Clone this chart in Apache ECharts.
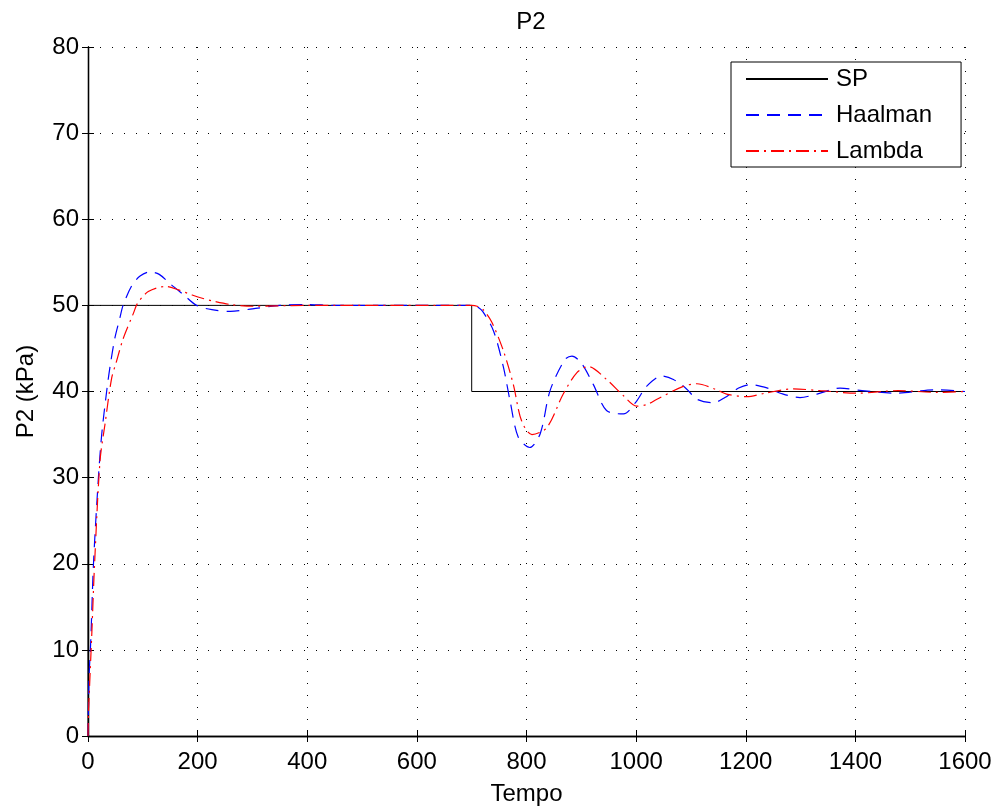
<!DOCTYPE html>
<html><head><meta charset="utf-8">
<script src="https://cdn.jsdelivr.net/npm/echarts@6/dist/echarts.min.js"></script>
<style>html,body{margin:0;padding:0;background:#fff}#c{width:1001px;height:811px}</style>
</head><body><div id="c"></div>
<script>
var xTicks = [0,200,400,600,800,1000,1200,1400,1600];
var yTicks = [0,10,20,30,40,50,60,70,80];
var spData = [[0,0],[0,50],[700,50],[700,40],[1600,40]];
var haalmanData = [[0,0],[1,4],[2,7],[5,11],[10,20],[19,30],[25,35],[34,40],[40,42.8],[49,46.2],[58,48.5],[64,50],[80,52.3],[95,53.4],[113,53.9],[130,53.6],[150,52.5],[175,51.2],[198,50],[226,49.5],[260,49.3],[300,49.6],[350,50],[400,50.1],[450,50],[700,50],[709,49.9],[720,49.3],[740,47],[758,42.8],[770,38.9],[785,34.7],[806,33.5],[825,35.1],[843,40.1],[870,43.7],[883,44.1],[900,43.3],[922,40.8],[946,37.8],[977,37.4],[1000,38.8],[1019,40.6],[1047,41.8],[1068,41.4],[1092,40.3],[1111,39.1],[1141,38.7],[1162,39.3],[1187,40.4],[1208,40.8],[1245,40.3],[1263,39.8],[1299,39.3],[1330,39.7],[1372,40.4],[1412,40.1],[1476,39.8],[1543,40.2],[1600,40]];
var lambdaData = [[0,0],[1,3],[3,6],[7,12],[12,20],[22,32],[31,36.2],[43,41.5],[52,43.5],[64.5,46.2],[83,49.1],[90,50.2],[110,51.6],[141,52.2],[165,51.8],[190,51.2],[210,50.8],[228,50.5],[260,50.1],[300,49.9],[400,50],[700,50],[710,49.9],[721,49.5],[737,48],[758,44.7],[776,40.8],[791,36.6],[810,35],[837,35.8],[867,39.7],[892,42.2],[913,42.9],[946,41.4],[977,39.5],[1001,38.3],[1020,38.5],[1038,39.1],[1086,40.6],[1111,40.9],[1147,40.2],[1165,39.7],[1202,39.4],[1235,39.8],[1287,40.3],[1336,40.1],[1403,39.8],[1478,40.1],[1549,39.9],[1600,40]];

var font = 'Liberation Sans, Arial, sans-serif';
var chart = echarts.init(document.getElementById('c'), null, {renderer:'canvas'});
var axLine = {show:true, lineStyle:{color:'#000', width:1.3}};
var tick = {show:true, inside:true, length:6, lineStyle:{color:'#000'}};
var plain = function(v){ return String(v); };
chart.setOption({
  animation:false,
  backgroundColor:'#fff',
  title:{text:'P2', left:526, top:5, textAlign:'center', textStyle:{fontFamily:font, fontSize:24, fontWeight:'normal', color:'#000'}},
  grid:{left:88, right:36, top:47, bottom:70, containLabel:false},
  legend:{
    left:731, top:62, orient:'vertical',
    padding:[5,29,4,14], itemGap:12, itemWidth:82, itemHeight:14,
    borderColor:'#000', borderWidth:1, backgroundColor:'#fff',
    itemStyle:{opacity:0},
    textStyle:{fontFamily:font, fontSize:24, color:'#000', padding:[0,0,0,3]},
    data:['SP','Haalman','Lambda']
  },
  xAxis:[{
    type:'value', min:0, max:1600, interval:200, position:'bottom',
    axisLine:axLine, axisTick:tick,
    axisLabel:{fontFamily:font, fontSize:24, color:'#000', margin:14, formatter:plain},
    splitLine:{show:true, lineStyle:{color:'#000', type:[1,11], width:1}},
    name:'Tempo', nameLocation:'middle', nameGap:46,
    nameTextStyle:{fontFamily:font, fontSize:24, color:'#000'}
  },{
    type:'value', min:0, max:1600, interval:200, position:'top',
    axisLine:axLine, axisTick:tick, axisLabel:{show:false}, splitLine:{show:false}
  }],
  yAxis:[{
    type:'value', min:0, max:80, interval:10, position:'left',
    axisLine:axLine, axisTick:tick,
    axisLabel:{fontFamily:font, fontSize:24, color:'#000', margin:9, formatter:plain},
    splitLine:{show:true, lineStyle:{color:'#000', type:[1,11], width:1}},
    name:'P2 (kPa)', nameLocation:'middle', nameGap:50, nameRotate:90,
    nameTextStyle:{fontFamily:font, fontSize:24, color:'#000'}
  },{
    type:'value', min:0, max:80, interval:10, position:'right',
    axisLine:axLine, axisTick:tick, axisLabel:{show:false}, splitLine:{show:false}
  }],
  series:[
    {name:'SP', type:'line', data:spData, symbol:'none', lineStyle:{color:'#000', width:1, type:'solid'}, itemStyle:{color:'#000'}, z:3},
    {name:'Haalman', type:'line', data:haalmanData, symbol:'none', smooth:0.3, lineStyle:{color:'#0000ff', width:1.2, type:[13,8]}, itemStyle:{color:'#0000ff'}, z:4},
    {name:'Lambda', type:'line', data:lambdaData, symbol:'none', smooth:0.3, lineStyle:{color:'#ff0000', width:1.2, type:[13,5,2,5]}, itemStyle:{color:'#ff0000'}, z:5}
  ]
});
</script></body></html>
